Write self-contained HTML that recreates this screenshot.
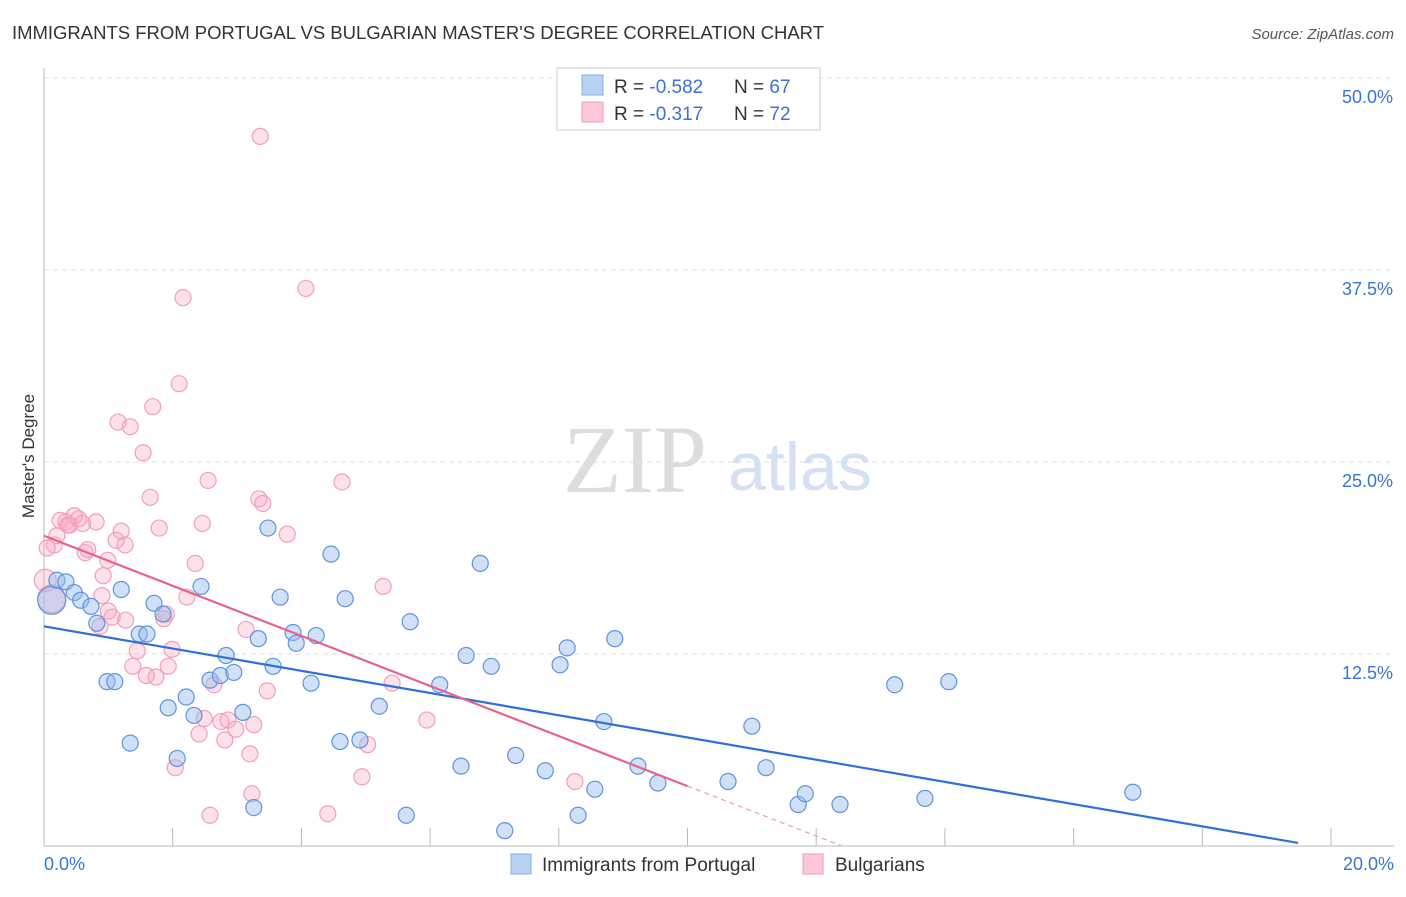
<!DOCTYPE html>
<html><head><meta charset="utf-8"><style>
body{margin:0;background:#fff;font-family:"Liberation Sans",sans-serif}
svg text{font-family:"Liberation Sans",sans-serif}
</style></head><body>
<svg id="c" width="1406" height="892" xmlns="http://www.w3.org/2000/svg">
<text x="12" y="39" font-size="18.5" fill="#333" textLength="812">IMMIGRANTS FROM PORTUGAL VS BULGARIAN MASTER'S DEGREE CORRELATION CHART</text>
<text x="1394" y="39" font-size="15" fill="#555" font-style="italic" text-anchor="end">Source: ZipAtlas.com</text>
<g id="grid"></g>
<text x="635" y="492" font-size="96" fill="#ddd" text-anchor="middle" style="font-family:'Liberation Serif',serif">ZIP</text>
<text x="800" y="490" font-size="68" fill="#d3e1f3" text-anchor="middle">atlas</text>
<line x1="44" y1="68" x2="44" y2="846" stroke="#bbb"/>
<line x1="44" y1="846" x2="1394" y2="846" stroke="#bbb"/>
<g id="ticks"></g>
<g id="ylabels"></g>
<text x="44" y="870" font-size="18" fill="#3a74d0">0.0%</text>
<text x="1394" y="870" font-size="18" fill="#3a74d0" text-anchor="end">20.0%</text>
<text transform="translate(34,456) rotate(-90)" font-size="17" fill="#333" text-anchor="middle">Master's Degree</text>
<g id="pts"></g>
<g id="lines"></g>
<g>
<rect x="557" y="68" width="263" height="62" fill="#fff" stroke="#ccc"/>
<rect x="582" y="75" width="21" height="20" fill="#b9d2f4" stroke="#85aee6"/>
<rect x="582" y="102" width="21" height="20" fill="#fcc8d7" stroke="#f09ab4"/>
<text x="614" y="93" font-size="19" fill="#333">R = <tspan fill="#3a74d0">-0.582</tspan></text>
<text x="734" y="93" font-size="19" fill="#333">N = <tspan fill="#3a74d0">67</tspan></text>
<text x="614" y="120" font-size="19" fill="#333">R =  <tspan fill="#3a74d0">-0.317</tspan></text>
<text x="734" y="120" font-size="19" fill="#333">N = <tspan fill="#3a74d0">72</tspan></text>
</g>
<g>
<rect x="511" y="854" width="20" height="20" fill="#b9d2f4" stroke="#85aee6"/>
<text x="542" y="871" font-size="19" fill="#333">Immigrants from Portugal</text>
<rect x="803" y="854" width="20" height="20" fill="#fcc8d7" stroke="#f09ab4"/>
<text x="835" y="871" font-size="19" fill="#333">Bulgarians</text>
</g>
</svg>
<script>
const yTicks=[12.5,25,37.5,50];
const yTickLabels=["12.5%","25.0%","37.5%","50.0%"];
const xTicks=[2,4,6,8,10,12,14,16,18,20];
const blueX=[0.12,0.20,0.34,0.47,0.57,0.73,0.82,0.98,1.10,1.20,1.34,1.48,1.60,1.71,1.85,1.93,2.07,2.21,2.33,2.44,2.58,2.74,2.83,2.95,3.09,3.26,3.33,3.48,3.56,3.67,3.87,3.92,4.15,4.23,4.46,4.60,4.68,4.91,5.21,5.63,5.69,6.15,6.48,6.56,6.78,6.95,7.16,7.33,7.79,8.02,8.13,8.30,8.56,8.70,8.87,9.23,9.54,10.63,11.00,11.22,11.72,11.83,12.37,13.22,13.69,14.06,16.92];
const blueY=[16.0,17.3,17.2,16.5,16.0,15.6,14.5,10.7,10.7,16.7,6.7,13.8,13.8,15.8,15.1,9.0,5.7,9.7,8.5,16.9,10.8,11.1,12.4,11.3,8.7,2.5,13.5,20.7,11.7,16.2,13.9,13.2,10.6,13.7,19.0,6.8,16.1,6.9,9.1,2.0,14.6,10.5,5.2,12.4,18.4,11.7,1.0,5.9,4.9,11.8,12.9,2.0,3.7,8.1,13.5,5.2,4.1,4.2,7.8,5.1,2.7,3.4,2.7,10.5,3.1,10.7,3.5];
const pinkX=[0.12,0.16,0.20,0.25,0.34,0.40,0.47,0.54,0.64,0.68,0.81,0.92,0.90,0.99,1.06,1.12,1.15,1.20,1.26,1.27,1.34,1.38,1.45,1.54,1.59,1.65,1.69,1.74,1.79,1.86,1.93,1.99,2.04,2.10,2.16,2.22,2.35,2.41,2.46,2.55,2.58,2.64,2.75,2.81,2.86,2.98,3.14,3.20,3.23,3.26,3.34,3.36,3.40,3.47,3.78,4.07,4.41,4.63,4.94,5.03,5.27,5.41,5.95,8.25,1.90,2.49,0.87,0.02,0.37,0.05,0.60,1.00];
const pinkY=[16.1,19.6,20.2,21.2,21.1,20.9,21.5,21.3,19.1,19.3,21.1,17.6,16.3,18.6,14.9,19.9,27.6,20.5,19.6,14.7,27.3,11.7,12.7,25.6,11.1,22.7,28.6,11.0,20.7,14.8,11.7,12.8,5.1,30.1,35.7,16.2,18.4,7.3,21.0,23.8,2.0,10.5,8.1,6.9,8.2,7.6,14.1,6.0,3.4,7.9,22.6,46.2,22.3,10.1,20.3,36.3,2.1,23.7,4.5,6.6,16.9,10.6,8.2,4.2,15.1,8.3,14.3,17.3,20.9,19.4,21.0,15.3];
const blueLine=[[0,14.3],[19.49,0.2]];
const pinkSolid=[[0,20.2],[10,3.9]];
const pinkDash=[[10,3.9],[12.4,0]];
const X=v=>44+v*64.35, Y=v=>846-v*15.36;
const NS="http://www.w3.org/2000/svg";
function mk(t,a,p){const e=document.createElementNS(NS,t);for(const k in a)e.setAttribute(k,a[k]);p.appendChild(e);return e;}
const grid=document.getElementById('grid');
yTicks.forEach((t,i)=>{
 const l=mk('line',{x1:44,x2:1394,y1:Y(t),y2:Y(t),stroke:'#ddd','stroke-dasharray':'5,4'},grid);
 
 
 const tx=mk('text',{x:1393,y:Y(t)+25,'font-size':18,fill:'#3a74d0','text-anchor':'end'},document.getElementById('ylabels'));
 tx.textContent=yTickLabels[i];
 
 
});
xTicks.forEach(t=>{
 const l=mk('line',{x1:X(t),x2:X(t),y1:828,y2:846,stroke:'#bbb'},document.getElementById('ticks'));
 
 
});
const pts=document.getElementById('pts');
pinkX.forEach((v,i)=>{
 const c=mk('circle',{cx:X(v),cy:Y(pinkY[i]),r:(i==0||i==67)?(i==0?14:11):8,fill:'rgba(248,170,195,0.35)',stroke:'#f0a0ba','stroke-width':1.2},pts);
 
 
});
blueX.forEach((v,i)=>{
 const c=mk('circle',{cx:X(v),cy:Y(blueY[i]),r:i==0?14:8,fill:'rgba(150,188,238,0.45)',stroke:'#5f93dc','stroke-width':1.2},pts);
 
 
});
const lg=document.getElementById('lines');
let l=mk('line',{x1:X(blueLine[0][0]),y1:Y(blueLine[0][1]),x2:X(blueLine[1][0]),y2:Y(blueLine[1][1]),stroke:'#2f6fd6','stroke-width':2.2},lg);


l=mk('line',{x1:X(pinkSolid[0][0]),y1:Y(pinkSolid[0][1]),x2:X(pinkSolid[1][0]),y2:Y(pinkSolid[1][1]),stroke:'#e8628e','stroke-width':2.2},lg);


l=mk('line',{x1:X(pinkDash[0][0]),y1:Y(pinkDash[0][1]),x2:X(pinkDash[1][0]),y2:Y(pinkDash[1][1]),stroke:'#e8a0b8','stroke-width':1.2,'stroke-dasharray':'5,4'},lg);


</script>
</body></html>
